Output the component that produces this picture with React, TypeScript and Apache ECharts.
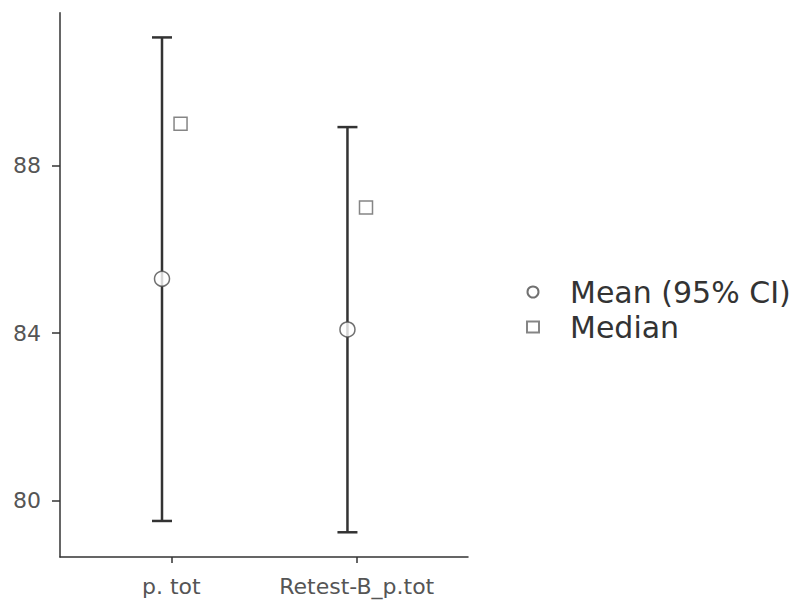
import React, { useEffect, useRef } from "react";
import * as echarts from "echarts";

const categories = ["p. tot", "Retest-B_p.tot"];
const meanValues = [85.3, 84.09];
const ciLower = [79.52, 79.25];
const ciUpper = [91.06, 88.92];
const medianValues = [89.0, 87.0];
const yTickValues = [80, 84, 88];
const categoryPositions = [1, 2];

const DODGE = 0.05;
const FONT = "DejaVu Sans";

export default function App() {
  const ref = useRef<HTMLDivElement>(null);

  useEffect(() => {
    if (!ref.current) return;
    const chart = echarts.init(ref.current, undefined, { renderer: "svg" });

    const errData = categoryPositions.map((p, i) => [p - DODGE, ciLower[i], ciUpper[i]]);
    const meanData = categoryPositions.map((p, i) => [p - DODGE, meanValues[i]]);
    const medianData = categoryPositions.map((p, i) => [p + DODGE, medianValues[i]]);

    const option: any = {
      animation: false,
      backgroundColor: "#ffffff",
      grid: { left: 60, right: 324, top: 12.7, bottom: 51, containLabel: false },
      legend: {
        data: ["Mean (95% CI)", "Median"],
        orient: "vertical",
        left: 521,
        top: 272,
        itemWidth: 12,
        itemHeight: 11,
        itemGap: 5,
        selectedMode: false,
        textStyle: { fontFamily: FONT, fontSize: 30, color: "#333333", padding: [0, 0, 0, 26] },
      },
      xAxis: {
        type: "value",
        min: 0.4,
        max: 2.6,
        splitLine: { show: false },
        axisLine: { show: true, lineStyle: { color: "#333333", width: 1.5 } },
        axisTick: {
          show: true,
          customValues: categoryPositions,
          length: 6,
          lineStyle: { color: "#333333", width: 1.5 },
        },
        axisLabel: {
          customValues: categoryPositions,
          formatter: (v: number) => categories[Math.round(v) - 1] ?? "",
          fontFamily: FONT,
          fontSize: 22,
          color: "#555555",
          margin: 18,
        },
      },
      yAxis: {
        type: "value",
        min: 78.66,
        max: 91.65,
        splitLine: { show: false },
        axisLine: { show: true, lineStyle: { color: "#333333", width: 1.5 } },
        axisTick: {
          show: true,
          customValues: yTickValues,
          length: 8,
          lineStyle: { color: "#333333", width: 1.5 },
        },
        axisLabel: {
          customValues: yTickValues,
          fontFamily: FONT,
          fontSize: 22,
          color: "#555555",
          margin: 19,
        },
      },
      series: [
        {
          type: "custom",
          name: "CI",
          z: 2,
          data: errData,
          encode: { x: 0, y: [1, 2] },
          renderItem: (params: any, api: any) => {
            const x = api.value(0);
            const lo = api.coord([x, api.value(1)]);
            const hi = api.coord([x, api.value(2)]);
            const half = 10;
            const style = { stroke: "#333333", lineWidth: 2.5 };
            return {
              type: "group",
              children: [
                { type: "line", shape: { x1: lo[0], y1: lo[1], x2: hi[0], y2: hi[1] }, style },
                { type: "line", shape: { x1: lo[0] - half, y1: lo[1], x2: lo[0] + half, y2: lo[1] }, style },
                { type: "line", shape: { x1: hi[0] - half, y1: hi[1], x2: hi[0] + half, y2: hi[1] }, style },
              ],
            };
          },
        },
        {
          type: "scatter",
          name: "Mean (95% CI)",
          z: 3,
          data: meanData,
          symbol: "circle",
          symbolSize: 15,
          itemStyle: { color: "#ffffff", borderColor: "#4d4d4d", borderWidth: 1.5 },
        },
        {
          type: "scatter",
          name: "Median",
          z: 3,
          data: medianData,
          symbol: "rect",
          symbolSize: 13,
          itemStyle: { color: "#ffffff", borderColor: "#666666", borderWidth: 1.5 },
        },
      ],
    };

    chart.setOption(option);
    return () => chart.dispose();
  }, []);

  return (
    <div
      ref={ref}
      style={{ position: "fixed", left: 0, top: 0, width: 792, height: 608 }}
    />
  );
}
